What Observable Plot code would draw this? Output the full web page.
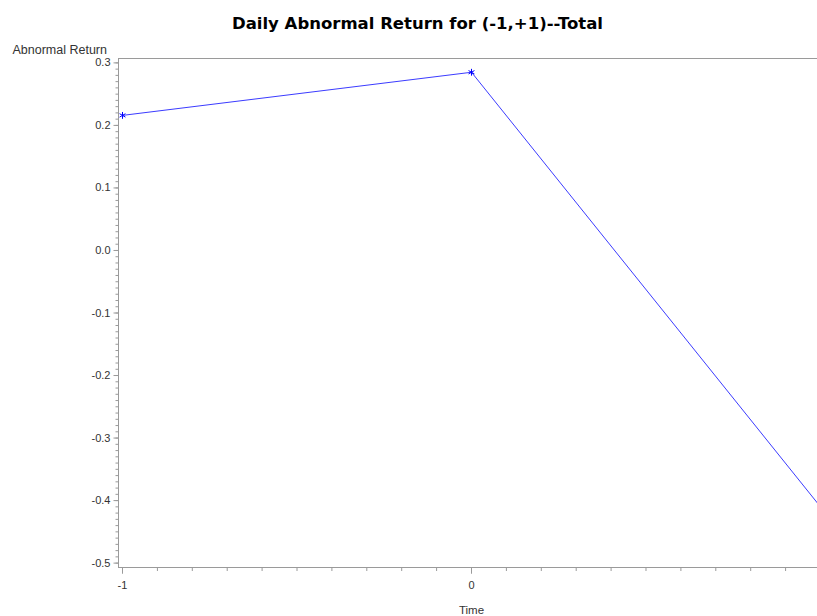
<!DOCTYPE html>
<html>
<head>
<meta charset="utf-8">
<script src="https://cdn.jsdelivr.net/npm/d3@7"></script>
<script src="https://cdn.jsdelivr.net/npm/@observablehq/plot@0.6"></script>
<style>
  html, body { margin: 0; padding: 0; background: #fff; overflow: hidden; width: 817px; height: 616px; }
  #chart { width: 817px; height: 616px; overflow: hidden; }
  #chart svg { display: block; max-width: none !important; }
</style>
</head>
<body>
<div id="chart"></div>
<script>
// Data
const times = [-1, 0, 1];
const abnormalReturn = [0.216, 0.285, -0.41];
const yTickValues = [-0.5, -0.4, -0.3, -0.2, -0.1, 0.0, 0.1, 0.2, 0.3];
const xMajorTicks = [-1, 0, 1];
const xTickLabels = [-1, 0];
const titleText = "Daily Abnormal Return for (-1,+1)--Total";
const yLabel = "Abnormal Return";
const xLabel = "Time";

const data = times.map((t, i) => ({time: t, ret: abnormalReturn[i]}));
const yMinor = d3.range(-50, 31).map(d => d / 100);
const xMinor = d3.range(-10, 11).map(d => d / 10);

const axisColor = "#9a9a9a";
const textColor = "#333";

const chart = Plot.plot({
  width: 830,
  height: 616,
  marginTop: 58,
  marginLeft: 118,
  marginRight: 6,
  marginBottom: 49,
  style: {fontFamily: "'Liberation Sans', Arial, sans-serif", fontSize: "11px", background: "#fff", maxWidth: "none"},
  x: {domain: [-1.0115, 1.0115], label: null},
  y: {domain: [-0.507, 0.307], label: null},
  marks: [
    Plot.frame({stroke: axisColor}),
    Plot.axisY(yMinor, {tickSize: 2.5, text: null, stroke: axisColor}),
    Plot.axisY(yTickValues, {tickSize: 4.5, tickPadding: 3.5, tickFormat: d => d.toFixed(1), stroke: axisColor, fill: textColor}),
    Plot.axisX(xMinor, {tickSize: 4, text: null, stroke: axisColor}),
    Plot.axisX(xMajorTicks, {tickSize: 6.5, text: null, stroke: axisColor}),
    Plot.axisX(xTickLabels, {tickSize: 6.5, tickPadding: 7, tickFormat: d => String(d), stroke: axisColor, fill: textColor}),
    Plot.line(data, {x: "time", y: "ret", stroke: "#3b3bff", strokeWidth: 1}),
    Plot.dot(data, {x: "time", y: "ret", symbol: "asterisk", stroke: "#0000ff", r: 3.2, strokeWidth: 1}),
    Plot.text([titleText], {text: d => d, frameAnchor: "top-left", dx: 299, dy: -41, textAnchor: "middle", fontFamily: "'DejaVu Sans', sans-serif", fontWeight: "bold", fontSize: 16.5, fill: "#000"}),
    Plot.text([yLabel], {text: d => d, frameAnchor: "top-left", dx: -106, dy: -13.5, textAnchor: "start", fontSize: 12.5, fill: textColor}),
    Plot.text([xLabel], {text: d => d, frameAnchor: "bottom", dy: 46, textAnchor: "middle", fontSize: 11.5, fill: textColor})
  ]
});
chart.style.maxWidth = "none";
document.getElementById("chart").appendChild(chart);
</script>
</body>
</html>
